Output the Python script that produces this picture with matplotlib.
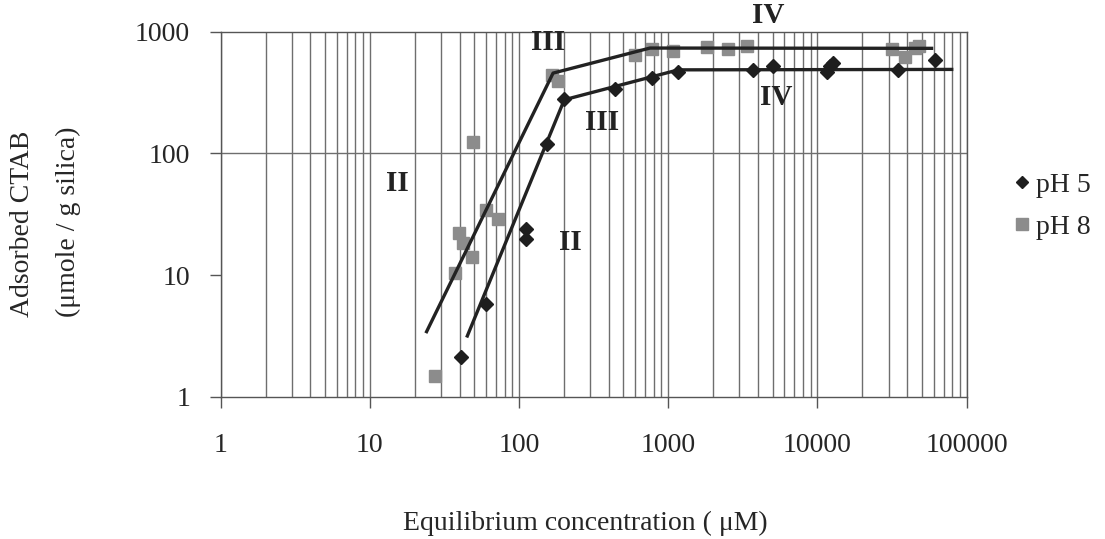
import numpy as np
import matplotlib
matplotlib.use("Agg")
import matplotlib.pyplot as plt
from matplotlib.ticker import LogLocator, FixedLocator, NullFormatter

plt.rcParams['font.family'] = ['Liberation Serif', 'DejaVu Serif']

# measured adsorption, pH 5 (diamonds)
conc_ph5 = [40.8, 60.0, 112, 112, 153, 201, 439, 774, 1156, 3715, 5060, 11530, 12760, 12200, 34800, 61400]
ads_ph5 = [2.12, 5.8, 23.9, 19.8, 119, 279, 338, 416, 471, 486, 518, 471, 552, 520, 486, 580]

# measured adsorption, pH 8 (squares)
conc_ph8 = [27.3, 37.2, 39.5, 41.9, 48.1, 49.3, 60.0, 72.6, 165, 181, 598, 774, 1076,
            1808, 2500, 3350, 31400, 38600, 45100, 48000]
ads_ph8 = [1.49, 10.4, 22.1, 18.5, 14.0, 124, 34.4, 29.0, 442, 395, 646, 719, 688,
           747, 719, 756, 719, 625, 735, 760]

# piecewise fitted lines through the regions
fit_x_ph5 = [45, 201, 1167, 79400]
fit_y_ph5 = [3.17, 276, 486, 490]
fit_x_ph8 = [24, 169, 754, 58200]
fit_y_ph8 = [3.44, 457, 734, 730]

# region labels (text, x, y)
regions = [("III", 156, 822), ("IV", 4660, 1368), ("III", 360, 181),
           ("IV", 5270, 290), ("II", 15.2, 57), ("II", 220, 18.4)]

xticks = [1, 10, 100, 1000, 10000, 100000]
xticklabels = ["1", "10", "100", "1000", "10000", "100000"]
yticks = [1, 10, 100, 1000]
yticklabels = ["1", "10", "100", "1000"]

txt = '#262626'
fig = plt.figure(figsize=(11.05, 5.39), dpi=100)
ax = fig.add_axes([0.1997, 0.2635, 0.6751, 0.6777])
ax.set_xscale('log')
ax.set_yscale('log')
ax.set_xlim(1, 100000)
ax.set_ylim(1, 1000)

ax.xaxis.set_major_locator(FixedLocator(xticks))
ax.xaxis.set_minor_locator(LogLocator(base=10, subs=np.arange(2, 10), numticks=20))
ax.xaxis.set_minor_formatter(NullFormatter())
ax.set_xticklabels(xticklabels)
ax.yaxis.set_major_locator(FixedLocator(yticks))
ax.yaxis.set_minor_locator(FixedLocator([]))
ax.set_yticklabels(yticklabels)

ax.grid(True, which='both', axis='x', color='#6e6e6e', linewidth=1.0)
ax.axhline(100, color='#6e6e6e', linewidth=1.0, zorder=0.5)
ax.set_axisbelow(True)

for s in ax.spines.values():
    s.set_color('#555555')
    s.set_linewidth(1.0)
ax.tick_params(axis='both', which='major', length=8, width=1, color='#555555',
               labelsize=20, labelcolor=txt)
ax.tick_params(axis='x', which='major', pad=18)
ax.tick_params(axis='y', which='major', pad=14)
ax.tick_params(axis='x', which='minor', length=0)

ax.plot(fit_x_ph8, fit_y_ph8, color='#222222', linewidth=2.4, zorder=3)
ax.plot(fit_x_ph5, fit_y_ph5, color='#222222', linewidth=2.4, zorder=3)
ax.plot(conc_ph5, ads_ph5, linestyle='none', marker='D', markersize=7,
        color='#1e1e1e', zorder=4, label='pH 5')
ax.plot(conc_ph8, ads_ph8, linestyle='none', marker='s', markersize=9,
        color='#8c8c8c', zorder=2, label='pH 8')

for t, x, y in regions:
    ax.text(x, y, t, ha='center', va='center', fontsize=21, fontweight='bold',
            color='#222222', clip_on=False, zorder=5)

leg = ax.legend(loc='center left', bbox_to_anchor=(0.905, 0.618),
                bbox_transform=fig.transFigure, frameon=False, fontsize=20,
                handlelength=0.6, handletextpad=0.2, labelspacing=0.6,
                borderpad=0, markerscale=0.9)
for t in leg.get_texts():
    t.set_color(txt)

fig.text(0.530, 1 - 523 / 539, "Equilibrium concentration ( \u03bcM)",
         ha='center', va='center', fontsize=20, color=txt)
fig.text(23 / 1105, 1 - 224 / 539, "Adsorbed CTAB", rotation=90,
         ha='center', va='center', fontsize=20, color=txt)
fig.text(68 / 1105, 1 - 222 / 539, "(\u03bcmole / g silica)", rotation=90,
         ha='center', va='center', fontsize=20, color=txt)

fig.savefig("out.png", dpi=100)
